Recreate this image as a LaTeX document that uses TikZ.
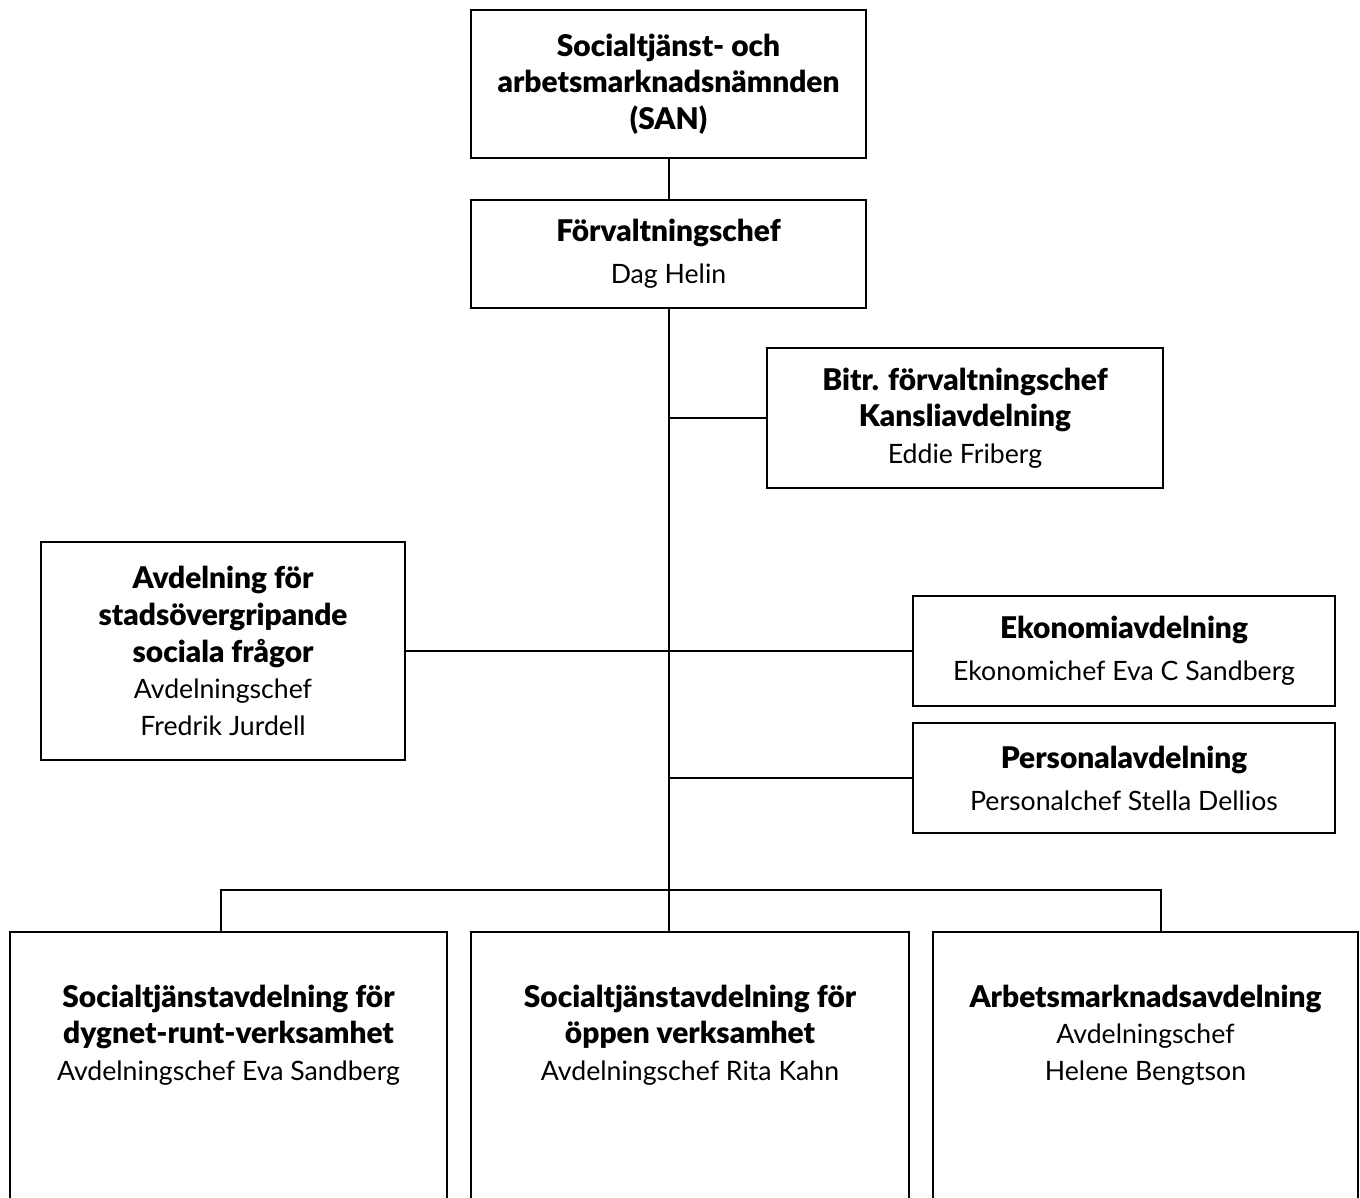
\documentclass[tikz,border=0pt]{standalone}
\usepackage{fontspec}
\setmainfont{Lato}[BoldFont=Lato Black, BoldFeatures={Scale=1.12}]
\usepackage{tikz}

\tikzset{
  unitbox/.style={draw, line width=1.5pt, inner sep=0pt, align=center,
    font=\fontsize{20}{27.5}\selectfont},
  unittext/.style={inner sep=0pt, align=center,
    font=\fontsize{20}{27.5}\selectfont},
  link/.style={line width=1.5pt}
}

\begin{document}
\begin{tikzpicture}[x=0.75pt,y=0.75pt,yscale=-1,xscale=1]
\useasboundingbox (0,0) rectangle (1360,1198);
\clip (0,0) rectangle (1360,1198);

%Shape: Rectangle [id:san]
\node[unitbox, minimum width=296.25pt, minimum height=111pt] (san) at (668.5,84)
  {\textbf{Socialtjänst- och}\\\textbf{arbetsmarknadsnämnden}\\\textbf{(SAN)}};
%Shape: Rectangle [id:forv]
\node[unitbox, minimum width=296.25pt, minimum height=81pt] (forv) at (668.5,254)
  {\textbf{Förvaltningschef}\\[4pt]Dag Helin};
%Shape: Rectangle [id:bitr]
\node[unitbox, minimum width=297pt, minimum height=105pt] (bitr) at (965,418)
  {\textbf{Bitr. förvaltningschef}\\\textbf{Kansliavdelning}\\Eddie Friberg};
%Shape: Rectangle [id:avd]
\node[unitbox, minimum width=273pt, minimum height=163.5pt] (avd) at (223,651)
  {\textbf{Avdelning för}\\\textbf{stadsövergripande}\\\textbf{sociala frågor}\\Avdelningschef\\Fredrik Jurdell};
%Shape: Rectangle [id:eko]
\node[unitbox, minimum width=316.5pt, minimum height=82.5pt] (eko) at (1124,651)
  {\textbf{Ekonomiavdelning}\\[4pt]Ekonomichef Eva C Sandberg};
%Shape: Rectangle [id:pers]
\node[unitbox, minimum width=316.5pt, minimum height=82.5pt] (pers) at (1124,778)
  {\textbf{Personalavdelning}\\[4pt]Personalchef Stella Dellios};

%Shape: Rectangle [id:dyg]
\node[unitbox, minimum width=327.75pt, minimum height=216pt] (dyg) at (228.5,1076) {};
%Shape: Rectangle [id:oppen]
\node[unitbox, minimum width=328.5pt, minimum height=216pt] (oppen) at (690,1076) {};
%Shape: Rectangle [id:arb]
\node[unitbox, minimum width=318.75pt, minimum height=216pt] (arb) at (1145.5,1076) {};

% Text Node
\node[unittext] (dygtxt) at (228.5,1035)
  {\textbf{Socialtjänstavdelning för}\\\textbf{dygnet-runt-verksamhet}\\Avdelningschef Eva Sandberg};
% Text Node
\node[unittext] (oppentxt) at (690,1035)
  {\textbf{Socialtjänstavdelning för}\\\textbf{öppen verksamhet}\\Avdelningschef Rita Kahn};
% Text Node
\node[unittext] (arbtxt) at (1145.5,1035)
  {\textbf{Arbetsmarknadsavdelning}\\Avdelningschef\\Helene Bengtson};

% junctions
\coordinate (trunk) at (668.5,890);
\coordinate (ldrop) at (221,890);
\coordinate (rdrop) at (1161,890);

%Straight Lines
\draw[link] (san.south) -- (forv.north);
\draw[link] (forv.south) -- (trunk) -- (trunk |- oppen.north);
\draw[link] (bitr.west) -- (bitr.west -| forv.south);
\draw[link] (avd.east) -- (eko.west);
\draw[link] (pers.west) -- (pers.west -| forv.south);
\draw[link] (ldrop |- dyg.north) -- (ldrop) -- (rdrop) -- (rdrop |- arb.north);

\end{tikzpicture}
\end{document}
